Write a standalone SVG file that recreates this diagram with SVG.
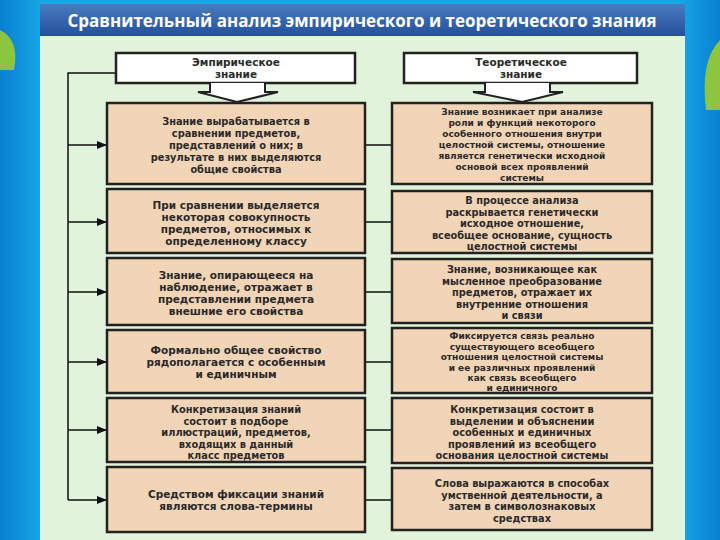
<svg xmlns="http://www.w3.org/2000/svg" width="720" height="540" viewBox="0 0 720 540">
<defs>
<linearGradient id="bg" x1="0" x2="1" y1="0" y2="0"><stop offset="0" stop-color="#0a7fd0"/><stop offset="0.06" stop-color="#18a8e8"/><stop offset="0.94" stop-color="#18a8e8"/><stop offset="1" stop-color="#0a7fd0"/></linearGradient>
<linearGradient id="tb" x1="0" x2="0" y1="0" y2="1"><stop offset="0" stop-color="#4a7cc0"/><stop offset="1" stop-color="#24509a"/></linearGradient>
<marker id="ar" viewBox="0 0 10 10" refX="10" refY="5" markerWidth="7" markerHeight="7" orient="auto"><path d="M0,1 L10,5 L0,9 z" fill="#111"/></marker>
<style>
.bx{fill:#f2d4b6;stroke:#222;stroke-width:2.5}
.hd{fill:#fff;stroke:#222;stroke-width:2.5}
.t{font-family:"DejaVu Sans",sans-serif;font-weight:bold;font-size:10.5px;fill:#2a2a2a;text-anchor:middle}
.s{font-size:9.8px}
.xs{font-size:9px}
.ln{stroke:#111;stroke-width:1.5;fill:none}
.ba{fill:#fff;stroke:#222;stroke-width:2}
</style>
</defs>
<rect width="720" height="540" fill="url(#bg)"/>
<path d="M0,30 Q20,40 14,70 L0,70 z" fill="#8cc63f"/>
<path d="M720,40 Q700,60 706,110 L720,110 z" fill="#8cc63f"/>
<rect x="40" y="36" width="645" height="504" fill="#e2f3dc"/>
<rect x="40" y="4" width="645" height="32" fill="url(#tb)"/>
<text x="362" y="27" font-family="'Open Sans','DejaVu Sans',sans-serif" font-size="17" font-weight="bold" fill="#fff" text-anchor="middle">Сравнительный анализ эмпирического и теоретического знания</text>
<g id="connectors">
<path class="ln" d="M116,73 H68 V500"/>
<path class="ln" d="M68,145 H107" marker-end="url(#ar)"/>
<path class="ln" d="M68,222 H107" marker-end="url(#ar)"/>
<path class="ln" d="M68,292 H107" marker-end="url(#ar)"/>
<path class="ln" d="M68,362 H107" marker-end="url(#ar)"/>
<path class="ln" d="M68,430 H107" marker-end="url(#ar)"/>
<path class="ln" d="M68,500 H107" marker-end="url(#ar)"/>
<path class="ln" d="M365,145 H392 M365,222 H392 M365,292 H392 M365,362 H392 M365,430 H392 M365,500 H392"/>
</g>
<g id="h1"><rect class="hd" x="116" y="53" width="239" height="30"/><text class="t" x="236" y="66">Эмпирическое</text><text class="t" x="236" y="78">знание</text>
<path class="ba" d="M210,83 V92 H198 L237,102 L278,92 H265 V83"/></g>
<g id="h2"><rect class="hd" x="404" y="53" width="233" height="30"/><text class="t" x="521" y="66">Теоретическое</text><text class="t" x="521" y="78">знание</text>
<path class="ba" d="M485,83 V92 H473 L522,102 L563,92 H550 V83"/></g>
<g id="l1"><rect class="bx" x="107" y="103" width="258" height="81"/><text class="t s" x="236" y="125">Знание вырабатывается в</text><text class="t s" x="236" y="137">сравнении предметов,</text><text class="t s" x="236" y="149">представлений о них; в</text><text class="t s" x="236" y="161">результате в них выделяются</text><text class="t s" x="236" y="173">общие свойства</text></g>
<g id="l2"><rect class="bx" x="107" y="189" width="258" height="64"/><text class="t" x="236" y="209">При сравнении выделяется</text><text class="t" x="236" y="221">некоторая совокупность</text><text class="t" x="236" y="233">предметов, относимых к</text><text class="t" x="236" y="245">определенному классу</text></g>
<g id="l3"><rect class="bx" x="107" y="258" width="258" height="67"/><text class="t" x="236" y="279">Знание, опирающееся на</text><text class="t" x="236" y="291">наблюдение, отражает в</text><text class="t" x="236" y="303">представлении предмета</text><text class="t" x="236" y="315">внешние его свойства</text></g>
<g id="l4"><rect class="bx" x="107" y="330" width="258" height="63"/><text class="t" x="236" y="354">Формально общее свойство</text><text class="t" x="236" y="366">рядополагается с особенным</text><text class="t" x="236" y="378">и единичным</text></g>
<g id="l5"><rect class="bx" x="107" y="398" width="258" height="64"/><text class="t s" x="236" y="413">Конкретизация знаний</text><text class="t s" x="236" y="424.5">состоит в подборе</text><text class="t s" x="236" y="436">иллюстраций, предметов,</text><text class="t s" x="236" y="447.5">входящих в данный</text><text class="t s" x="236" y="459">класс предметов</text></g>
<g id="l6"><rect class="bx" x="107" y="467" width="258" height="65"/><text class="t" x="236" y="498">Средством фиксации знаний</text><text class="t" x="236" y="510">являются слова-термины</text></g>
<g id="r1"><rect class="bx" x="392" y="103" width="260" height="81"/><text class="t xs" x="522" y="115">Знание возникает при анализе</text><text class="t xs" x="522" y="126">роли и функций некоторого</text><text class="t xs" x="522" y="137">особенного отношения внутри</text><text class="t xs" x="522" y="148">целостной системы, отношение</text><text class="t xs" x="522" y="159">является генетически исходной</text><text class="t xs" x="522" y="170">основой всех проявлений</text><text class="t xs" x="522" y="181">системы</text></g>
<g id="r2"><rect class="bx" x="392" y="191" width="260" height="62"/><text class="t s" x="522" y="204">В процессе анализа</text><text class="t s" x="522" y="215.5">раскрывается генетически</text><text class="t s" x="522" y="227">исходное отношение,</text><text class="t s" x="522" y="238.5">всеобщее основание, сущность</text><text class="t s" x="522" y="250">целостной системы</text></g>
<g id="r3"><rect class="bx" x="392" y="259" width="260" height="64"/><text class="t s" x="522" y="273">Знание, возникающее как</text><text class="t s" x="522" y="284.5">мысленное преобразование</text><text class="t s" x="522" y="296">предметов, отражает их</text><text class="t s" x="522" y="307.5">внутренние отношения</text><text class="t s" x="522" y="319">и связи</text></g>
<g id="r4"><rect class="bx" x="392" y="328" width="260" height="65"/><text class="t xs" x="522" y="339">Фиксируется связь реально</text><text class="t xs" x="522" y="349.5">существующего всеобщего</text><text class="t xs" x="522" y="360">отношения целостной системы</text><text class="t xs" x="522" y="370.5">и ее различных проявлений</text><text class="t xs" x="522" y="381">как связь всеобщего</text><text class="t xs" x="522" y="391">и единичного</text></g>
<g id="r5"><rect class="bx" x="392" y="398" width="260" height="65"/><text class="t s" x="522" y="413">Конкретизация состоит в</text><text class="t s" x="522" y="424.5">выделении и объяснении</text><text class="t s" x="522" y="436">особенных и единичных</text><text class="t s" x="522" y="447.5">проявлений из всеобщего</text><text class="t s" x="522" y="459">основания целостной системы</text></g>
<g id="r6"><rect class="bx" x="392" y="468" width="260" height="62"/><text class="t s" x="522" y="487">Слова выражаются в способах</text><text class="t s" x="522" y="498.5">умственной деятельности, а</text><text class="t s" x="522" y="510">затем в символознаковых</text><text class="t s" x="522" y="521.5">средствах</text></g>
</svg>
